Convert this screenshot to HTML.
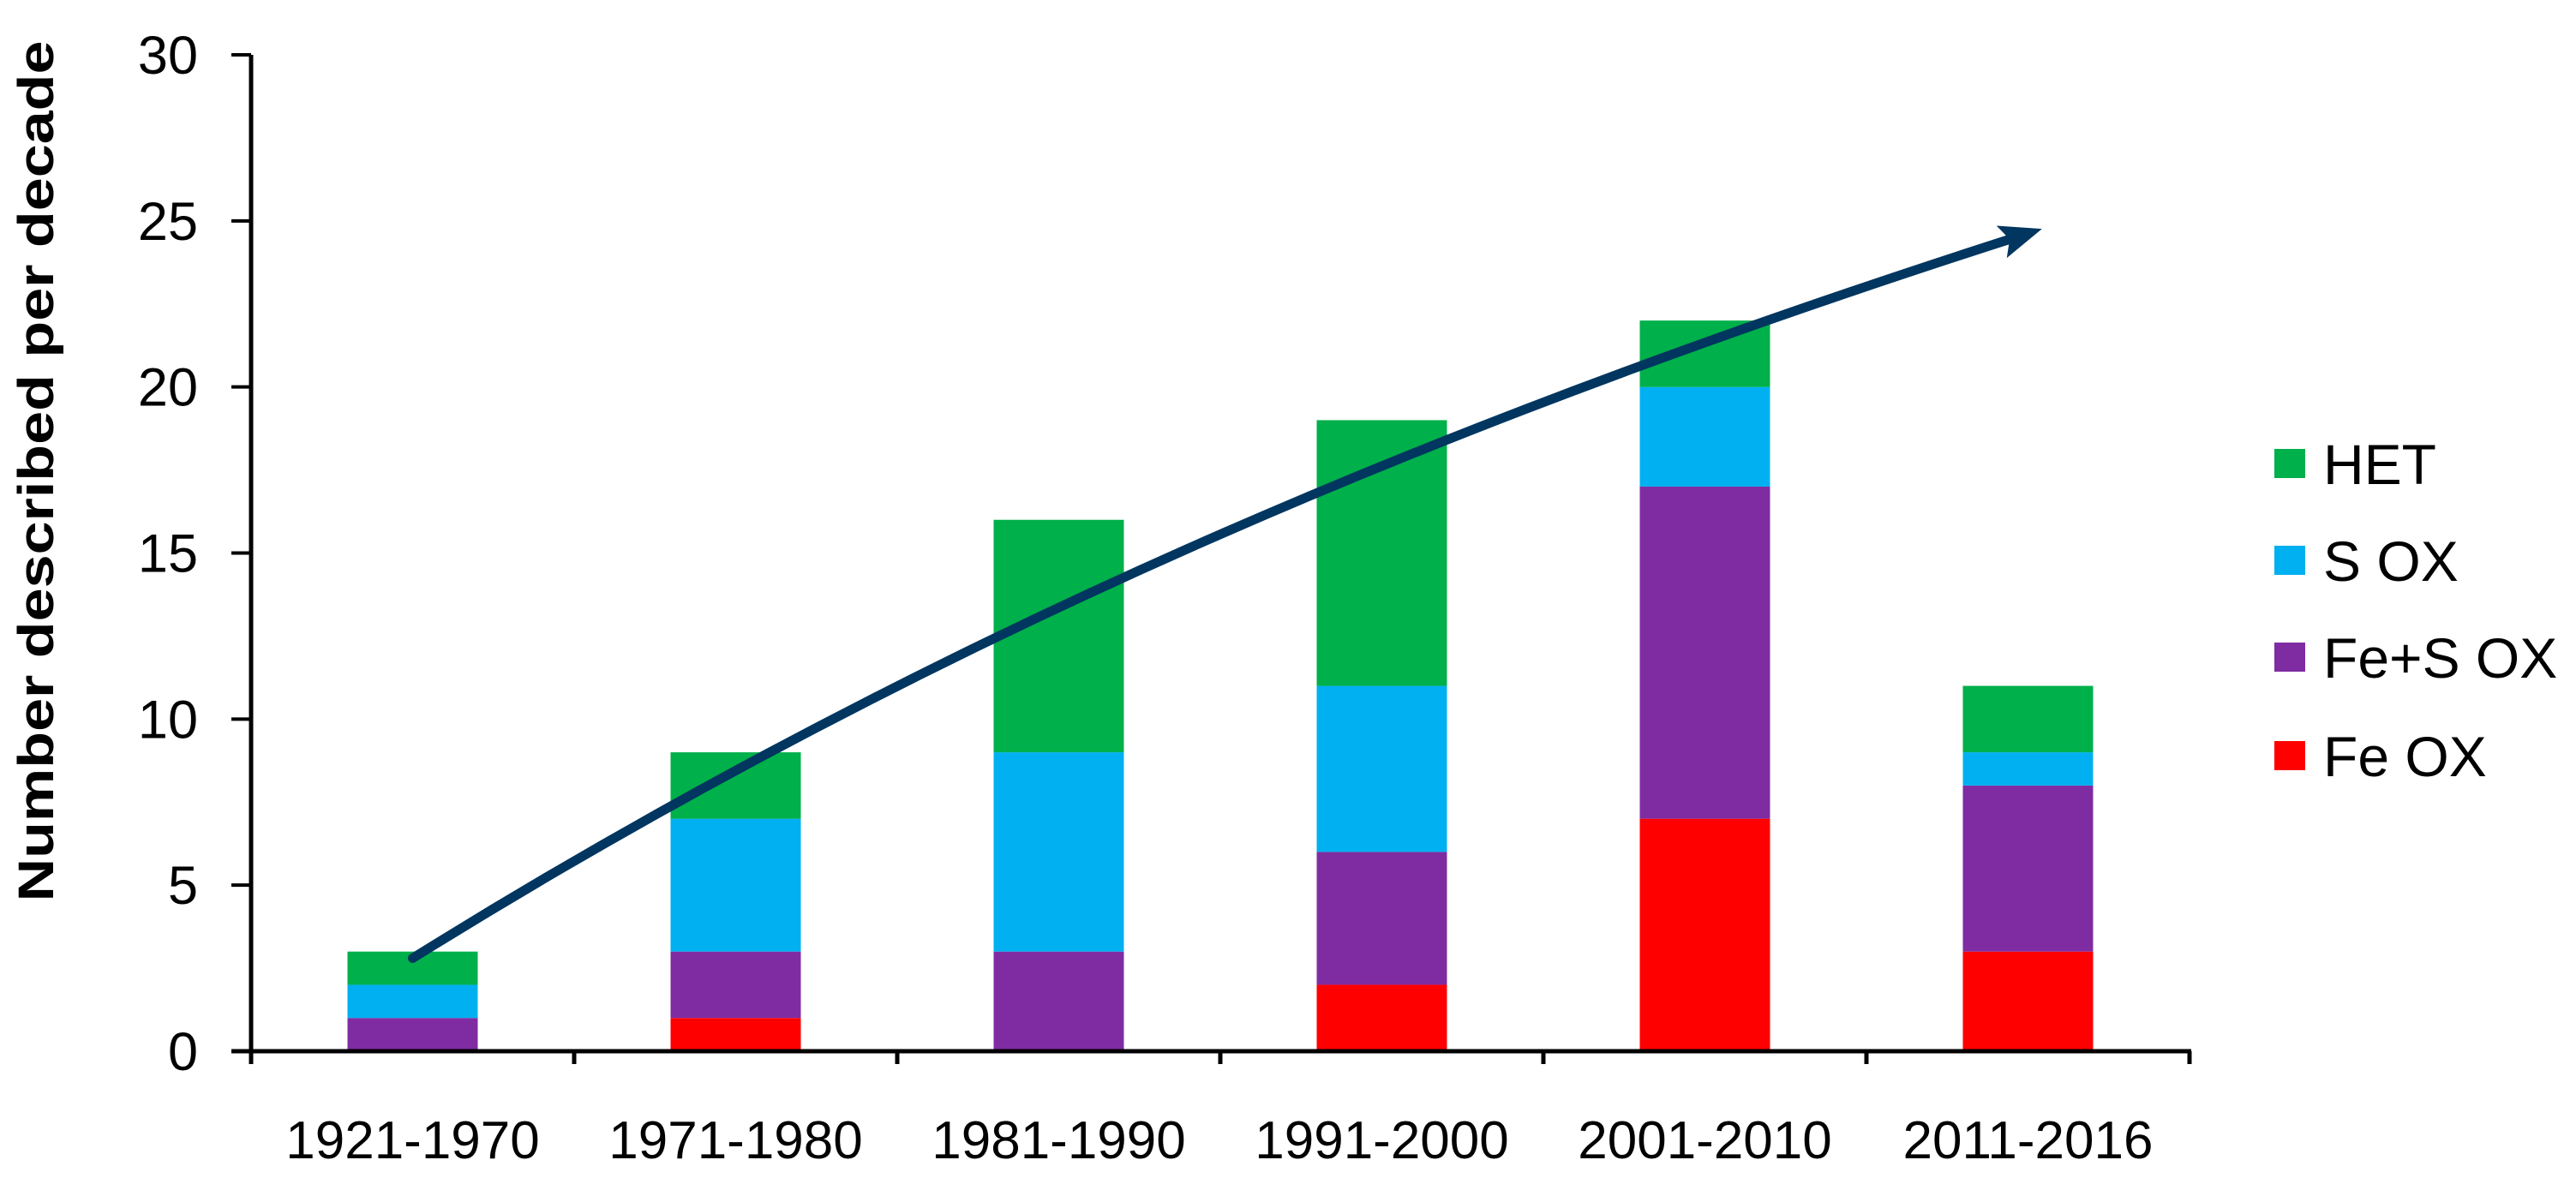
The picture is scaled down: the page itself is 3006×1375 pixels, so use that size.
<!DOCTYPE html>
<html><head><meta charset="utf-8"><style>
html,body{margin:0;padding:0;background:#fff;}
svg{display:block;font-family:"Liberation Sans",Arial,sans-serif;}
</style></head><body>
<svg id="chart" width="3006" height="1375" viewBox="0 0 3006 1375">
<defs><marker id="arrow" markerWidth="4.5" markerHeight="3.6" refX="1.5" refY="1.8" orient="auto" markerUnits="strokeWidth"><path d="M0,0 L4.5,1.8 L0,3.6 L0.9,1.8 Z" fill="#003660"/></marker></defs>
<g id="bars"></g>
<g id="axes"></g>
<g id="legend"></g>
<text transform="translate(62,550) rotate(-90)" text-anchor="middle" font-size="58" font-weight="bold" textLength="1005" lengthAdjust="spacingAndGlyphs">Number described per decade</text>
</svg>
<script>
const categories = ["1921-1970","1971-1980","1981-1990","1991-2000","2001-2010","2011-2016"];
const feOx = [0,1,0,2,7,3];
const feSOx = [1,2,3,4,10,5];
const sOx = [1,4,6,5,3,1];
const het = [1,2,7,8,2,2];
const yTicks = [0,5,10,15,20,25,30];
const trendValues = [2.8, 13.1, 19.5, 24.5];

const NS="http://www.w3.org/2000/svg";
const X0=293, X1=2555, Y0=1227, Y1=64, YMAX=30;
const band=(X1-X0)/categories.length, barW=152;
function y(v){return Y0-(v/YMAX)*(Y0-Y1);}
function xc(i){return X0+band*(i+0.5);}
function mk(tag,attrs,parent){const e=document.createElementNS(NS,tag);for(const k in attrs)e.setAttribute(k,attrs[k]);parent.appendChild(e);return e;}
const bars=document.getElementById('bars'), axes=document.getElementById('axes'), legend=document.getElementById('legend');
const series=[{name:"Fe OX",vals:feOx,color:"#FF0000"},{name:"Fe+S OX",vals:feSOx,color:"#7F2CA2"},{name:"S OX",vals:sOx,color:"#00B0F0"},{name:"HET",vals:het,color:"#00B04A"}];
categories.forEach((c,i)=>{
  let acc=0;
  series.forEach(s=>{
    const v=s.vals[i]; if(v<=0)return;
    const r=mk('rect',{x:xc(i)-barW/2,y:y(acc+v),width:barW,height:y(acc)-y(acc+v),fill:s.color},bars);
    
    
    acc+=v;
  });
});
let a=mk('line',{x1:X0,y1:Y1,x2:X0,y2:Y0+14,stroke:"#000","stroke-width":5},axes);


a=mk('line',{x1:X0-23,y1:Y0,x2:X1+2,y2:Y0,stroke:"#000","stroke-width":5},axes);


yTicks.forEach(t=>{
  const l=mk('line',{x1:X0-23,y1:y(t),x2:X0,y2:y(t),stroke:"#000","stroke-width":4},axes);
  
  
  const tx=mk('text',{x:231,y:y(t)+22,"text-anchor":"end","font-size":63},axes);
  tx.textContent=t;
  
  
});
for(let i=0;i<=categories.length;i++){
  const l=mk('line',{x1:X0+band*i,y1:Y0,x2:X0+band*i,y2:Y0+15,stroke:"#000","stroke-width":5},axes);
  
  
}
categories.forEach((c,i)=>{
  const tx=mk('text',{x:xc(i),y:1352,"text-anchor":"middle","font-size":62},axes);
  tx.textContent=c;
  
  
});
const tx0=xc(0), tx1=X0+band*2.2, tx2=X0+band*3.86, tx3=X0+band*5.46;
const p=mk('path',{d:`M${tx0},${y(trendValues[0])} C${tx1},${y(trendValues[1])} ${tx2},${y(trendValues[2])} ${tx3},${y(trendValues[3])}`,fill:"none",stroke:"#003660","stroke-width":11,"stroke-linecap":"round","marker-end":"url(#arrow)"},axes);


const legY=[541,654,767,882];
[...series].reverse().forEach((s,k)=>{
  const r=mk('rect',{x:2654,y:legY[k]-17,width:36,height:34,fill:s.color},legend);
  
  
  const tx=mk('text',{x:2711,y:legY[k]+24,"font-size":66},legend);
  tx.textContent=s.name;
  
  
});
</script>
</body></html>
